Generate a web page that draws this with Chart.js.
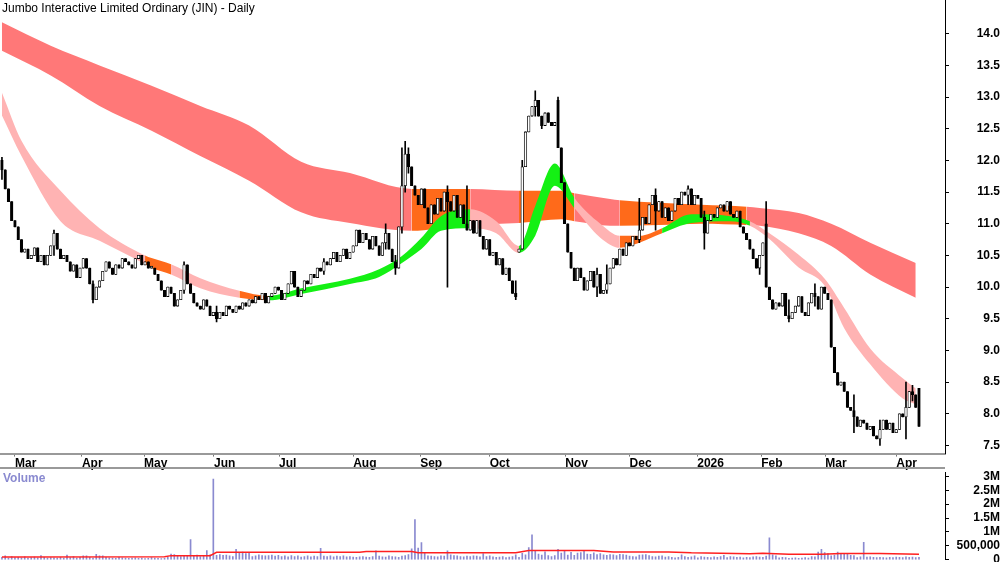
<!DOCTYPE html>
<html>
<head>
<meta charset="utf-8">
<script src="https://cdn.jsdelivr.net/npm/chart.js@4.4.0/dist/chart.umd.min.js"></script>
<style>
  body { margin: 0; background: #fff; font-family: 'Liberation Sans', Arial, sans-serif; }
  #wrap { position: relative; width: 1000px; height: 562px; overflow: hidden; }
  #priceBox { position: absolute; left: 0; top: -11px; width: 1000px; height: 482px; }
  #volBox { position: absolute; left: 0; top: 461px; width: 1000px; height: 110px; }
  #sep { position: absolute; left: 0; top: 467px; width: 945px; height: 0; border-top: 2px solid #999; }
  #title { position: absolute; left: 2px; top: 1px; font-size: 12px; color: #000; }
  #volLabel { position: absolute; left: 3px; top: 471px; font-size: 12px; font-weight: bold; color: #8a8ad0; }
</style>
</head>
<body>
<div id="wrap">
  <div id="priceBox"><canvas id="priceChart"></canvas></div>
  <div id="volBox"><canvas id="volChart"></canvas></div>
  <div id="sep"></div>
  <div id="title">Jumbo Interactive Limited Ordinary (JIN) - Daily</div>
  <div id="volLabel">Volume</div>
</div>
<script>
// daily closes, 25 Feb 2025 .. 9 Apr 2026 (bar index = trading day)
const closes = [
  11.85, 11.55, 11.35, 11.05, 10.95,
  10.75, 10.55, 10.6, 10.45, 10.5, 10.62, 10.4, 10.5, 10.35, 10.5, 10.65, 10.85, 10.6, 10.45, 10.5, 10.4, 10.25, 10.35, 10.15, 10.3, 10.45,
  10.3, 10.05, 9.8, 10.0, 10.1, 10.25, 10.4, 10.3, 10.2, 10.35, 10.3, 10.45, 10.4, 10.35, 10.3, 10.45, 10.5, 10.35, 10.4, 10.3,
  10.3, 10.2, 10.1, 9.95, 9.85, 10.0, 9.9, 9.7, 9.8, 9.95, 10.35, 10.05, 9.9, 9.75, 9.7, 9.65, 9.8, 9.7, 9.55, 9.6, 9.5,
  9.6, 9.55, 9.7, 9.65, 9.6, 9.7, 9.65, 9.75, 9.7, 9.8, 9.75, 9.85, 9.8, 9.9, 9.75, 9.85, 9.9, 10.0, 9.95, 9.8,
  9.9, 10.05, 10.25, 10.0, 9.85, 9.95, 10.1, 10.05, 10.2, 10.15, 10.3, 10.25, 10.4, 10.35, 10.45, 10.55, 10.4, 10.5, 10.6, 10.45, 10.55, 10.65, 10.9,
  10.7, 10.85, 10.75, 10.6, 10.8, 10.65, 10.5, 10.7, 10.85, 10.6, 10.4, 10.3, 10.95, 11.6, 12.1, 11.9, 11.6, 11.45, 11.3, 11.55, 11.25,
  11.0, 11.3, 11.15, 11.4, 11.2, 11.5, 11.35, 11.2, 11.45, 11.1, 11.3, 11.0, 10.9, 11.05, 10.85, 11.05, 10.8, 10.6, 10.75, 10.5, 10.55, 10.35,
  10.45, 10.2, 10.3, 10.1, 9.9, 9.85, 10.6, 11.9, 12.45, 12.7, 12.85, 12.95, 12.7, 12.55, 12.75, 12.6, 12.55, 12.6, 12.2, 11.65, 11.0, 10.55, 10.3,
  10.1, 10.3, 10.15, 9.95, 10.1, 10.25, 10.0, 10.2, 9.9, 9.95, 10.05, 10.3, 10.45, 10.35, 10.6, 10.5, 10.7, 10.65, 10.8, 10.75,
  10.9, 11.1, 11.0, 11.3, 11.45, 11.2, 11.35, 11.1, 11.25, 11.05, 11.2, 11.4, 11.3, 11.5, 11.45, 11.55, 11.3, 11.45, 11.4,
  11.1, 10.85, 11.05, 11.15, 11.1, 11.25, 11.3, 11.2, 11.35, 11.15, 11.1, 11.2, 10.95, 10.85, 10.75, 10.6, 10.45, 10.3, 10.5, 10.7,
  10.0, 9.8, 9.65, 9.75, 9.7, 9.9, 9.55, 9.5, 9.6, 9.7, 9.85, 9.6, 9.55, 9.75, 9.9, 9.85, 9.65, 10.0, 9.9, 9.8,
  9.05, 8.65, 8.45, 8.5, 8.35, 8.1, 8.05, 7.95, 7.8, 7.9, 7.85, 7.75, 7.8, 7.65, 7.6, 7.75, 7.9, 7.75, 7.85, 7.7, 7.75,
  8.0, 7.95, 8.1, 8.35, 8.3, 8.1, 7.8
];
const firstOpen = 12.0;
// opens where the bar gapped away from the prior close
const gapOpens = { 159: 10.55, 171: 12.95, 235: 11.0, 255: 9.8, 282: 8.4 };
// wick extents [low, high] for bars with visible shadows
const wicks = {
  0: [11.7, 12.05], 16: [10.5, 10.9], 28: [9.75, 10.1], 56: [9.9, 10.4], 66: [9.45, 9.7],
  99: [10.2, 10.45], 118: [10.6, 11.0], 121: [10.2, 10.5], 123: [10.85, 12.2], 124: [11.5, 12.3],
  125: [11.8, 12.2], 137: [10.0, 11.6], 143: [10.9, 11.6], 158: [9.8, 10.1], 160: [10.6, 12.0],
  164: [12.7, 13.1], 166: [12.5, 12.7], 171: [12.2, 13.0], 183: [9.85, 10.3], 186: [9.9, 10.35],
  196: [10.7, 11.4], 201: [10.9, 11.55], 211: [11.3, 11.6], 216: [10.6, 11.2], 233: [10.2, 10.5],
  235: [10.0, 11.35], 242: [9.45, 9.8], 250: [9.7, 10.05], 262: [7.7, 8.3], 270: [7.5, 7.9],
  278: [7.6, 8.5], 280: [8.2, 8.45]
};
</script>
<script>
// long-term ribbon edges [bar index, upper, lower]
const longRibbon = [
  [0, 14.18, 13.73], [15, 13.81, 13.34], [30, 13.5, 12.86], [46, 13.18, 12.47], [61, 12.86, 12.07],
  [76, 12.55, 11.68], [92, 11.98, 11.18], [107, 11.8, 11.01], [126, 11.55, 10.89], [141, 11.55, 10.97],
  [144, 11.55, 10.98], [159, 11.52, 11.01], [172, 11.52, 11.07], [176, 11.48, 11.04], [187, 11.39, 10.97],
  [190, 11.37, 10.97], [202, 11.33, 10.98], [215, 11.3, 11.0], [229, 11.27, 10.98], [233, 11.25, 10.97],
  [245, 11.17, 10.85], [255, 11.0, 10.65], [267, 10.7, 10.2], [281, 10.38, 9.83]
];
// colour code of the long ribbon after each point: r = red, o = orange
const longColors = ['r','r','r','r','r','r','r','r','o','o','r','o','o','r','r','o','o','o','r','r','r','r','r','r'];
// short-term ribbon edges [bar index, upper, lower]
const shortRibbon = [
  [0, 13.07, 12.71], [6, 12.31, 12.07], [18, 11.52, 11.04], [30, 10.93, 10.73], [44, 10.5, 10.36],
  [46, 10.46, 10.3], [52, 10.36, 10.2], [61, 10.14, 9.98], [73, 9.94, 9.83], [82, 9.86, 9.79],
  [92, 9.98, 9.89], [107, 10.13, 10.05], [116, 10.28, 10.16], [123, 10.49, 10.38], [129, 10.78, 10.6],
  [135, 11.12, 10.89], [144, 11.23, 10.93], [152, 11.04, 10.85], [159, 10.65, 10.54], [164, 11.28, 10.81],
  [170, 11.95, 11.6], [176, 11.41, 11.25], [184, 11.0, 10.78], [190, 10.81, 10.62], [196, 10.81, 10.7],
  [203, 10.93, 10.85], [212, 11.15, 11.01], [224, 11.12, 11.04], [230, 11.04, 10.97], [236, 10.85, 10.76],
  [245, 10.51, 10.31], [253, 10.13, 10.02], [259, 9.67, 9.35], [267, 9.03, 8.78], [277, 8.56, 8.24],
  [281, 8.4, 8.15]
];
// colour code after each point: p = pink, o = orange, g = green
const shortColors = ['p','p','p','p','o','o','p','p','o','g','g','g','g','g','g','g','p','p','g','g','g','p','p','o','o','g','g','g','p','p','p','p','p','p','p','p'];

// volume in thousands, one per bar
const volumes = [
  90, 140, 60, 120, 80, 90, 70, 110, 60, 80, 100, 70, 150, 90, 60, 80, 70, 60, 90, 60,
  170, 80, 120, 60, 90, 140, 140, 90, 60, 200, 140, 140, 90, 70, 60, 50, 90, 70, 60, 50,
  60, 70, 50, 60, 40, 50, 80, 60, 50, 40, 50, 100, 210, 190, 140, 120, 160, 140, 730, 130,
  170, 120, 150, 330, 180, 2900, 160, 190, 160, 170, 140, 120, 380, 250, 280, 220, 270, 120, 140, 180,
  150, 140, 150, 170, 130, 160, 120, 140, 110, 150, 120, 140, 100, 120, 140, 110, 130, 120, 410, 130,
  120, 140, 110, 130, 120, 140, 110, 120, 100, 90, 110, 120, 100, 90, 120, 320, 130, 110, 100, 140,
  120, 110, 90, 130, 150, 190, 390, 1450, 420, 620, 250, 140, 130, 120, 110, 140, 130, 320, 180, 150,
  140, 120, 110, 130, 120, 140, 130, 110, 220, 120, 140, 110, 90, 100, 120, 80, 100, 120, 180, 90,
  230, 180, 440, 900, 320, 210, 170, 290, 150, 120, 150, 380, 240, 310, 170, 270, 160, 240, 260, 320,
  210, 200, 250, 190, 220, 180, 160, 190, 180, 150, 200, 190, 170, 130, 120, 110, 170, 180, 190, 150,
  120, 110, 130, 140, 100, 120, 90, 70, 90,
  180, 120, 90, 110, 140, 70, 120, 100, 90, 80, 110, 90, 120, 160, 80, 120, 110, 90, 100, 70,
  90, 80, 110, 120, 100, 90, 130, 790, 180, 140, 70, 90, 80, 50, 60, 70, 50, 60, 80, 60,
  120, 110, 280, 380, 260, 220, 140, 170, 280, 230, 220, 210, 160, 150, 80, 110, 630, 100, 110, 90,
  80, 90, 80, 70, 90, 80, 100, 90, 80, 110, 90, 100, 80, 90
];
// volume moving average [bar index, value]
const volAverage = [
  [0, 100000], [50, 110000], [52, 150000], [64, 150000], [66, 270000], [110, 270000], [112, 300000],
  [126, 300000], [128, 250000], [158, 250000], [162, 330000], [182, 330000], [188, 280000], [205, 280000],
  [212, 250000], [230, 220000], [234, 240000], [242, 200000], [252, 200000], [258, 230000], [270, 230000], [282, 200000]
];

const monthTicks = [4, 24.6, 43.7, 65.2, 85.2, 108, 128.6, 150, 173.2, 193, 213.8, 233.5, 253.2, 275];
const monthLabels = ['Mar', 'Apr', 'May', 'Jun', 'Jul', 'Aug', 'Sep', 'Oct', 'Nov', 'Dec', '2026', 'Feb', 'Mar', 'Apr'];
const priceTicks = [7.5, 8.0, 8.5, 9.0, 9.5, 10.0, 10.5, 11.0, 11.5, 12.0, 12.5, 13.0, 13.5, 14.0];
const volTicks = [0, 500000, 1000000, 1500000, 2000000, 2500000, 3000000];
const volTickLabels = ['0', '500,000', '1M', '1.5M', '2M', '2.5M', '3M'];
</script>
<script>
const X_MIN = -0.6, X_MAX = 290;
const palette = { r: '#ff7878', o: '#ff6a1a', p: '#ffb3b3', g: '#14f014' };
Chart.defaults.font.family = "'Liberation Sans', Arial, sans-serif";
Chart.defaults.font.size = 12;
Chart.defaults.color = '#000';

const bodies = [], shadows = [], bodyColors = [];
closes.forEach((c, i) => {
    const o = gapOpens[i] !== undefined ? gapOpens[i] : (i ? closes[i - 1] : firstOpen);
    const up = c >= o;
    let lo = Math.min(o, c), hi = Math.max(o, c);
    if (hi - lo < 0.03) hi = lo + 0.03;
    bodies.push({ x: i, y: [lo, hi] });
    bodyColors.push(up ? '#ffffff' : '#000000');
    const w = wicks[i] || [Math.min(o, c), Math.max(o, c)];
    shadows.push({ x: i, y: [w[0], w[1]] });
});

function ribbon(points, idx) {
    return points.map((p) => ({ x: p[0], y: p[idx] }));
}

const rightAxisWidth = (axis) => { axis.width = 55; };
const band = { borderWidth: 0, pointRadius: 0, cubicInterpolationMode: 'monotone' };

new Chart(document.getElementById('priceChart'), {
    data: {
        datasets: [
            {
                type: 'line', data: ribbon(longRibbon, 1), ...band, fill: '+1', order: 5,
                segment: { backgroundColor: (ctx) => palette[longColors[ctx.p0DataIndex]] }
            },
            { type: 'line', data: ribbon(longRibbon, 2), ...band, fill: false, order: 5 },
            {
                type: 'line', data: ribbon(shortRibbon, 1), ...band, fill: '+1', order: 4,
                segment: { backgroundColor: (ctx) => palette[shortColors[ctx.p0DataIndex]] }
            },
            { type: 'line', data: ribbon(shortRibbon, 2), ...band, fill: false, order: 4 },
            {
                type: 'bar', data: shadows, backgroundColor: '#000', barThickness: 1, grouped: false, order: 2
            },
            {
                type: 'bar', data: bodies, backgroundColor: bodyColors, borderColor: '#000', borderWidth: 0.8,
                borderSkipped: false, barThickness: 2.6, grouped: false, order: 1
            }
        ]
    },
    options: {
        animation: false,
        responsive: true,
        maintainAspectRatio: false,
        layout: { padding: 0 },
        plugins: { legend: { display: false }, tooltip: { enabled: false } },
        scales: {
            x: {
                type: 'linear', min: X_MIN, max: X_MAX, offset: false,
                afterBuildTicks: (axis) => { axis.ticks = monthTicks.map((v) => ({ value: v })); },
                ticks: {
                    align: 'start', padding: 0, autoSkip: false, maxRotation: 0,
                    font: { weight: 'bold', size: 12 },
                    callback: (v, i) => monthLabels[i]
                },
                grid: { drawOnChartArea: false, offset: false, tickLength: 3, color: '#777' },
                border: { color: '#999', width: 2 }
            },
            y: {
                position: 'right', min: 7.37, max: 14.53,
                afterBuildTicks: (axis) => { axis.ticks = priceTicks.map((v) => ({ value: v })); },
                afterFit: rightAxisWidth,
                ticks: { crossAlign: 'far', padding: 4, autoSkip: false, font: { weight: 'bold', size: 12 }, callback: (v) => v.toFixed(1) },
                grid: { drawOnChartArea: false, tickLength: 4, color: '#000' },
                border: { color: '#000' }
            }
        }
    }
});

new Chart(document.getElementById('volChart'), {
    data: {
        datasets: [
            {
                type: 'line', data: volAverage.map((p) => ({ x: p[0], y: p[1] })), borderColor: '#ff2020',
                borderWidth: 1.5, pointRadius: 0, order: 1
            },
            {
                type: 'bar', data: volumes.map((v, i) => ({ x: i, y: v * 1000 })), backgroundColor: '#8a8ad0',
                barThickness: 1, grouped: false, order: 2
            }
        ]
    },
    options: {
        animation: false,
        responsive: true,
        maintainAspectRatio: false,
        layout: { padding: 0 },
        plugins: { legend: { display: false }, tooltip: { enabled: false } },
        scales: {
            x: { type: 'linear', min: X_MIN, max: X_MAX, offset: false, display: false },
            y: {
                position: 'right', min: 0, max: 3150000,
                afterBuildTicks: (axis) => { axis.ticks = volTicks.map((v) => ({ value: v })); },
                afterFit: rightAxisWidth,
                ticks: { crossAlign: 'far', padding: 4, autoSkip: false, font: { weight: 'bold', size: 12 }, callback: (v, i) => volTickLabels[i] },
                grid: { drawOnChartArea: false, tickLength: 4, color: '#000' },
                border: { color: '#000' }
            }
        }
    }
});
</script>
</body>
</html>
